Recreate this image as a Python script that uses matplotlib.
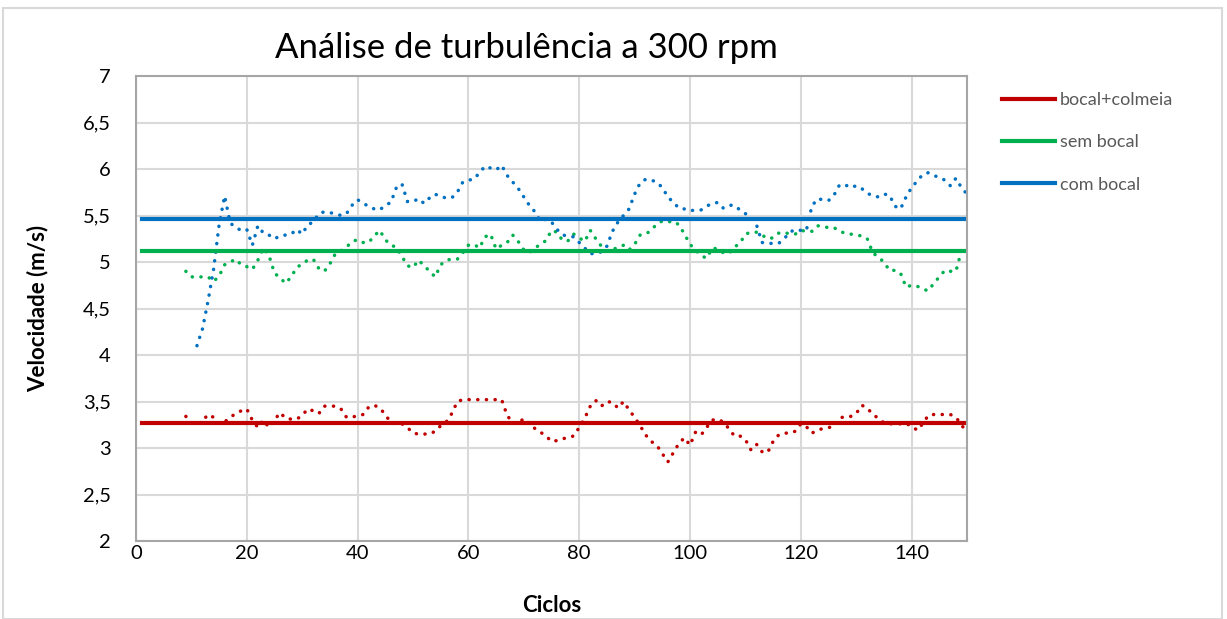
import numpy as np
import matplotlib
matplotlib.use('Agg')
import matplotlib.pyplot as plt
from matplotlib.patches import Rectangle
from matplotlib.ticker import FuncFormatter

plt.rcParams['font.family'] = ['Lato', 'DejaVu Sans']

# cycles and velocities (m/s)
ciclos_azul = list(range(11, 151))
com_bocal = [4.10, 4.28, 4.58, 4.92, 5.40, 5.71, 5.42, 5.37, 5.34, 5.35,
             5.18, 5.39, 5.31, 5.29, 5.25, 5.28, 5.29, 5.30, 5.35, 5.30,
             5.40, 5.43, 5.52, 5.54, 5.53, 5.52, 5.50, 5.52, 5.61, 5.67,
             5.63, 5.60, 5.57, 5.56, 5.61, 5.64, 5.80, 5.84, 5.65, 5.65,
             5.68, 5.63, 5.69, 5.73, 5.70, 5.69, 5.69, 5.75, 5.86, 5.88,
             5.89, 5.96, 6.03, 6.01, 5.99, 6.04, 5.93, 5.86, 5.79, 5.70,
             5.61, 5.54, 5.44, 5.46, 5.43, 5.35, 5.29, 5.28, 5.27, 5.21,
             5.15, 5.09, 5.09, 5.11, 5.17, 5.33, 5.43, 5.50, 5.57, 5.73,
             5.85, 5.89, 5.88, 5.86, 5.80, 5.70, 5.64, 5.58, 5.57, 5.55,
             5.56, 5.56, 5.60, 5.63, 5.64, 5.58, 5.61, 5.61, 5.56, 5.52,
             5.48, 5.40, 5.21, 5.20, 5.20, 5.20, 5.25, 5.32, 5.35, 5.34,
             5.34, 5.60, 5.68, 5.67, 5.66, 5.72, 5.83, 5.83, 5.80, 5.82,
             5.79, 5.74, 5.71, 5.70, 5.73, 5.72, 5.60, 5.57, 5.70, 5.80,
             5.87, 5.94, 5.96, 5.93, 5.91, 5.88, 5.82, 5.90, 5.80, 5.73]

ciclos = list(range(9, 151))
sem_bocal = [4.90, 4.84, 4.84, 4.84, 4.84, 4.79, 4.85, 4.97, 5.00, 5.03,
             4.97, 4.95, 4.92, 5.02, 5.15, 5.07, 4.88, 4.83, 4.77, 4.84,
             4.94, 4.98, 5.02, 5.03, 4.93, 4.90, 4.98, 5.09, 5.12, 5.16,
             5.22, 5.24, 5.21, 5.21, 5.28, 5.34, 5.24, 5.18, 5.16, 5.06,
             4.96, 4.94, 5.02, 4.96, 4.90, 4.84, 4.97, 5.02, 5.03, 5.03,
             5.10, 5.18, 5.19, 5.15, 5.27, 5.30, 5.14, 5.18, 5.21, 5.29,
             5.22, 5.13, 5.10, 5.15, 5.19, 5.23, 5.34, 5.32, 5.23, 5.23,
             5.30, 5.26, 5.22, 5.34, 5.25, 5.17, 5.12, 5.13, 5.16, 5.18,
             5.13, 5.19, 5.29, 5.30, 5.34, 5.41, 5.44, 5.43, 5.44, 5.40,
             5.30, 5.19, 5.13, 5.07, 5.04, 5.15, 5.14, 5.10, 5.09, 5.16,
             5.20, 5.30, 5.32, 5.32, 5.29, 5.25, 5.26, 5.31, 5.32, 5.30,
             5.30, 5.34, 5.33, 5.33, 5.39, 5.38, 5.37, 5.37, 5.33, 5.31,
             5.30, 5.29, 5.28, 5.25, 5.10, 5.05, 5.00, 4.91, 4.91, 4.88,
             4.73, 4.75, 4.74, 4.71, 4.69, 4.77, 4.84, 4.91, 4.90, 4.90,
             5.12, 5.12]

bocal_colmeia = [3.34, 3.27, 3.25, 3.29, 3.36, 3.33, 3.26, 3.28, 3.33, 3.37,
                 3.40, 3.42, 3.30, 3.22, 3.30, 3.22, 3.30, 3.38, 3.32, 3.31,
                 3.31, 3.35, 3.42, 3.40, 3.37, 3.45, 3.45, 3.45, 3.42, 3.33,
                 3.33, 3.35, 3.36, 3.44, 3.46, 3.43, 3.36, 3.27, 3.26, 3.26,
                 3.22, 3.16, 3.15, 3.15, 3.15, 3.18, 3.24, 3.28, 3.37, 3.50,
                 3.52, 3.52, 3.52, 3.52, 3.52, 3.52, 3.52, 3.52, 3.35, 3.27,
                 3.26, 3.32, 3.26, 3.21, 3.17, 3.13, 3.07, 3.08, 3.10, 3.11,
                 3.13, 3.22, 3.32, 3.45, 3.51, 3.45, 3.50, 3.49, 3.43, 3.50,
                 3.41, 3.33, 3.24, 3.14, 3.07, 3.03, 2.94, 2.85, 2.95, 3.05,
                 3.11, 3.03, 3.17, 3.14, 3.22, 3.30, 3.31, 3.28, 3.21, 3.13,
                 3.13, 3.09, 2.98, 3.04, 2.96, 2.95, 3.07, 3.14, 3.16, 3.16,
                 3.18, 3.26, 3.23, 3.16, 3.19, 3.21, 3.22, 3.23, 3.32, 3.34,
                 3.34, 3.37, 3.46, 3.43, 3.36, 3.32, 3.27, 3.26, 3.26, 3.26,
                 3.26, 3.24, 3.19, 3.26, 3.35, 3.36, 3.36, 3.36, 3.36, 3.33,
                 3.25, 3.16]

# mean lines
media_x = [1, 150]
media_colmeia = 3.27
media_sem = 5.12
media_com = 5.46

cor_vermelho = '#C00000'
cor_verde = '#00B050'
cor_azul = '#0070C0'

fig = plt.figure(figsize=(12.27, 6.19), dpi=100)
fig.patches.append(Rectangle((3 / 1227, 0.0), 1219 / 1227, 1 - 8 / 619,
                             transform=fig.transFigure, fill=False,
                             edgecolor='#D9D9D9', linewidth=1.5))
ax = fig.add_axes([136 / 1227, 1 - 541 / 619, 831 / 1227, 465 / 619])

dots = (0, (0.05, 2.45))
ax.plot(ciclos, bocal_colmeia, color=cor_vermelho, lw=2.5, linestyle=dots,
        dash_capstyle='round')
ax.plot(ciclos, sem_bocal, color=cor_verde, lw=2.5, linestyle=dots,
        dash_capstyle='round')
ax.plot(ciclos_azul, com_bocal, color=cor_azul, lw=2.5, linestyle=dots,
        dash_capstyle='round')

l1, = ax.plot(media_x, [media_colmeia] * 2, color=cor_vermelho, lw=3)
l2, = ax.plot(media_x, [media_sem] * 2, color=cor_verde, lw=3)
l3, = ax.plot(media_x, [media_com] * 2, color=cor_azul, lw=3)

ax.set_xlim(0, 150)
ax.set_ylim(2, 7)
ax.set_xticks(np.arange(0, 141, 20))
ax.set_yticks(np.arange(2, 7.01, 0.5))
ax.yaxis.set_major_formatter(FuncFormatter(lambda v, p: f'{v:g}'.replace('.', ',')))
ax.grid(True, color='#D9D9D9', lw=1.5)
ax.set_axisbelow(True)
for s in ax.spines.values():
    s.set_color('#A6A6A6')
    s.set_linewidth(1.5)
ax.tick_params(length=0, labelsize=14.5, colors='black')
ax.tick_params(axis='x', pad=3)
ax.tick_params(axis='y', pad=18)

ax.set_xlabel('Ciclos', fontsize=16, fontweight='bold', labelpad=24)
ax.set_ylabel('Velocidade (m/s)', fontsize=16, fontweight='bold', labelpad=25)

fig.text(526 / 1227, 1 - 48 / 619, 'Análise de turbulência a 300 rpm',
         ha='center', va='center', fontsize=25)

fig.legend([l1, l2, l3], ['bocal+colmeia', 'sem bocal', 'com bocal'],
           loc='upper left', bbox_to_anchor=(986 / 1227, 1 - 76 / 619),
           frameon=False, fontsize=13, handlelength=2.9, handletextpad=0.3,
           labelspacing=1.45, labelcolor='#595959')

plt.savefig('out.png', dpi=100)
